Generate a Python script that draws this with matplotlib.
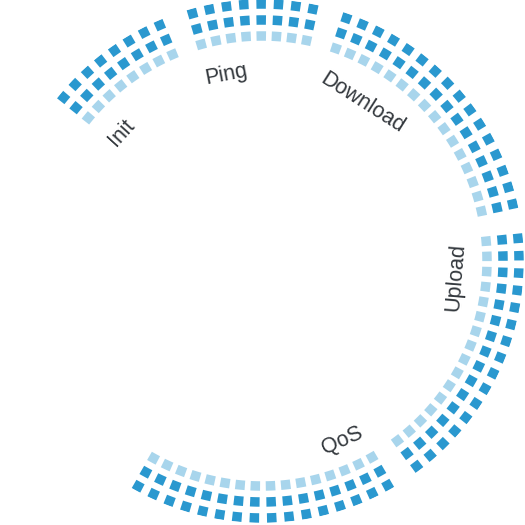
import numpy as np
import matplotlib
matplotlib.use("Agg")
import matplotlib.pyplot as plt

# stages around the ring, clockwise from the top-left
categories = ["Init", "Ping", "Download", "Upload", "QoS"]
counts = [8, 8, 16, 16, 16]          # squares per stage
label_theta = [137.7, 100.9, 57.5, -4.7, -65.9]   # degrees
label_r = [190, 190, 187, 194, 197]

ring_r = [225, 241, 257]
ring_colors = ["#a8d5ec", "#2a98cf", "#2a98cf"]

start_deg = 140.5
step_deg = 3.87
sq = 9.5  # square side in px

fig = plt.figure(figsize=(5.25, 5.25), dpi=100)
ax = fig.add_axes([0, 2 / 525, 524 / 525, 524 / 525], projection="polar")
ax.set_ylim(0, 262)
ax.set_axis_off()

# angle of every square, one empty slot between stages
thetas = []
k = 0
for n in counts:
    for i in range(n):
        thetas.append(start_deg - (k + i) * step_deg)
    k += n + 1
thetas = np.radians(thetas)

for r, c in zip(ring_r, ring_colors):
    ax.bar(thetas, sq, width=sq / r, bottom=r - sq / 2, color=c,
           linewidth=0, align="center")

for name, th, r in zip(categories, label_theta, label_r):
    rot = th - 90 if th > 0 else th + 90
    ax.text(np.radians(th), r, name, rotation=rot, rotation_mode="anchor",
            ha="center", va="center", fontsize=15.5, color="#33383d",
            family=["Liberation Sans", "DejaVu Sans"])

fig.savefig("out.png", dpi=100)
